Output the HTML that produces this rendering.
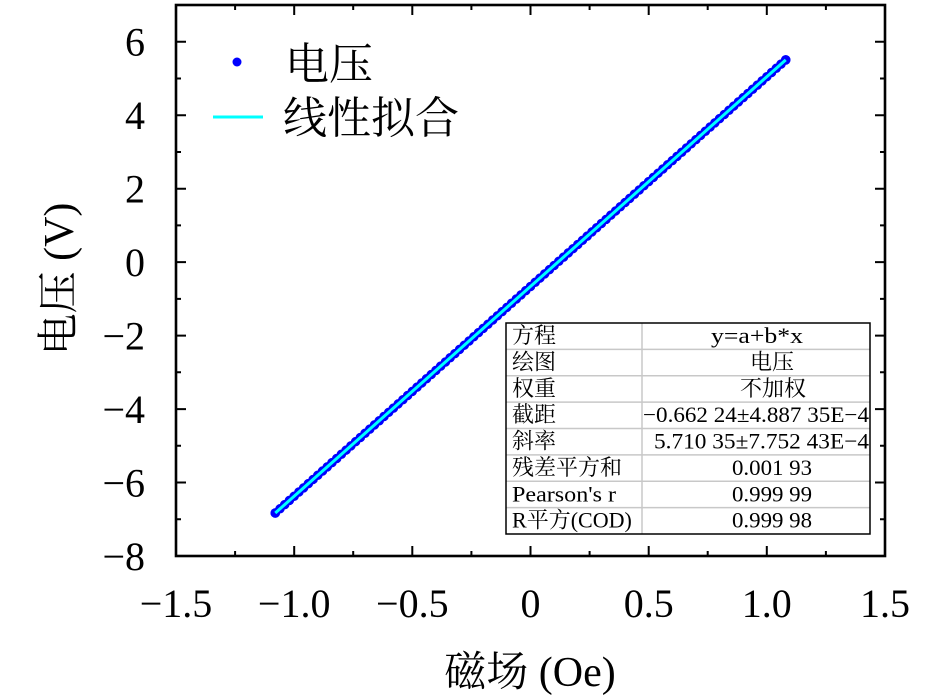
<!DOCTYPE html>
<html>
<head>
<meta charset="utf-8">
<style>
  html, body { margin: 0; padding: 0; background: #ffffff; }
  svg { display: block; }
  .tick { font-family: "Liberation Serif", serif; font-size: 40px; fill: #000; }
  .cjk { font-family: "Liberation Serif", "Noto Serif CJK SC", "Noto Serif CJK JP", serif; fill: #000; }
  .lat { font-family: "Liberation Serif", serif; }
  .tb { font-family: "Liberation Serif", "Noto Serif CJK SC", "Noto Serif CJK JP", serif; font-size: 22px; fill: #000; }
</style>
</head>
<body>
<svg width="945" height="698" viewBox="0 0 945 698" xmlns="http://www.w3.org/2000/svg">
  <rect x="0" y="0" width="945" height="698" fill="#fff"/>

  <!-- data: markers as round-capped dashes -->
  <line x1="275.26" y1="513.0" x2="785.74" y2="59.92" pathLength="108"
        stroke="#0000ff" stroke-width="9.5" stroke-linecap="round" stroke-dasharray="0 1" fill="none"/>
  <line x1="275.26" y1="513.0" x2="785.74" y2="59.92" stroke="#0000ff" stroke-width="7"/>
  <circle cx="275.26" cy="513.0" r="4.8" fill="#0000ff"/>
  <circle cx="785.74" cy="59.92" r="4.8" fill="#0000ff"/>
  <!-- fit line -->
  <line x1="275.26" y1="513.0" x2="785.74" y2="59.92" stroke="#00ffff" stroke-width="3"/>

  <!-- ticks -->
  <g stroke="#000" stroke-width="2" fill="none">
    <path d="M294.2 556v-10 M412.3 556v-10 M530.5 556v-10 M648.7 556v-10 M766.8 556v-10"/>
    <path d="M235.1 556v-5 M353.2 556v-5 M471.4 556v-5 M589.6 556v-5 M707.7 556v-5 M825.9 556v-5"/>
    <path d="M294.2 5v10 M412.3 5v10 M530.5 5v10 M648.7 5v10 M766.8 5v10"/>
    <path d="M235.1 5v5 M353.2 5v5 M471.4 5v5 M589.6 5v5 M707.7 5v5 M825.9 5v5"/>
    <path d="M176 482.5h10 M176 409.1h10 M176 335.6h10 M176 262.1h10 M176 188.7h10 M176 115.2h10 M176 41.7h10"/>
    <path d="M176 519.3h5 M176 445.8h5 M176 372.3h5 M176 298.9h5 M176 225.4h5 M176 152h5 M176 78.5h5"/>
    <path d="M885 482.5h-10 M885 409.1h-10 M885 335.6h-10 M885 262.1h-10 M885 188.7h-10 M885 115.2h-10 M885 41.7h-10"/>
    <path d="M885 519.3h-5 M885 445.8h-5 M885 372.3h-5 M885 298.9h-5 M885 225.4h-5 M885 152h-5 M885 78.5h-5"/>
  </g>

  <!-- spines -->
  <rect x="176" y="5" width="709" height="551" fill="none" stroke="#000" stroke-width="2.6"/>

  <!-- x tick labels -->
  <g class="tick" text-anchor="middle">
    <text x="176" y="617">−1.5</text>
    <text x="294.2" y="617">−1.0</text>
    <text x="412.3" y="617">−0.5</text>
    <text x="530.5" y="617">0</text>
    <text x="648.7" y="617">0.5</text>
    <text x="766.8" y="617">1.0</text>
    <text x="885" y="617">1.5</text>
  </g>

  <!-- y tick labels -->
  <g class="tick" text-anchor="end">
    <text x="145" y="570">−8</text>
    <text x="145" y="496.5">−6</text>
    <text x="145" y="423.1">−4</text>
    <text x="145" y="349.6">−2</text>
    <text x="145" y="276.1">0</text>
    <text x="145" y="202.7">2</text>
    <text x="145" y="129.2">4</text>
    <text x="145" y="55.7">6</text>
  </g>

  <!-- axis titles -->
  <text class="cjk" x="530" y="686" font-size="42" text-anchor="middle">磁场<tspan class="lat"> (Oe)</tspan></text>
  <text class="cjk" font-size="42" text-anchor="middle" transform="translate(73,279) rotate(-90)">电压<tspan class="lat"> (V)</tspan></text>

  <!-- legend -->
  <circle cx="237" cy="62" r="4.5" fill="#0000ff"/>
  <text class="cjk" x="285" y="79" font-size="44">电压</text>
  <line x1="213" y1="117" x2="263" y2="117" stroke="#00ffff" stroke-width="3"/>
  <text class="cjk" x="283" y="133" font-size="44">线性拟合</text>

  <!-- fit results table -->
  <rect x="506" y="323" width="364" height="211" fill="#fff"/>
  <g stroke="#c8c8c8" stroke-width="1.5">
    <line x1="506" y1="349.4" x2="870" y2="349.4"/>
    <line x1="506" y1="375.8" x2="870" y2="375.8"/>
    <line x1="506" y1="402.1" x2="870" y2="402.1"/>
    <line x1="506" y1="428.5" x2="870" y2="428.5"/>
    <line x1="506" y1="454.9" x2="870" y2="454.9"/>
    <line x1="506" y1="481.3" x2="870" y2="481.3"/>
    <line x1="506" y1="507.6" x2="870" y2="507.6"/>
    <line x1="642" y1="323" x2="642" y2="534"/>
  </g>
  <rect x="506" y="323" width="364" height="211" fill="none" stroke="#000" stroke-width="1.5"/>

  <g class="tb">
    <text x="512" y="343">方程</text>
    <text x="512" y="369.4">绘图</text>
    <text x="512" y="395.8">权重</text>
    <text x="512" y="422.1">截距</text>
    <text x="512" y="448.5">斜率</text>
    <text x="512" y="474.9">残差平方和</text>
    <text x="512" y="501.3" textLength="104" lengthAdjust="spacingAndGlyphs">Pearson's r</text>
    <text x="512" y="527.6">R<tspan>平方</tspan><tspan class="lat">(COD)</tspan></text>
  </g>
  <g class="tb">
    <text x="711" y="343" textLength="92" lengthAdjust="spacingAndGlyphs">y=a+b*x</text>
    <text x="750" y="369.4">电压</text>
    <text x="740" y="395.8">不加权</text>
    <text x="643" y="422.1" textLength="226" lengthAdjust="spacingAndGlyphs">−0.662 24±4.887 35E−4</text>
    <text x="654" y="448.5" textLength="215" lengthAdjust="spacingAndGlyphs">5.710 35±7.752 43E−4</text>
    <text x="732" y="474.9" textLength="80" lengthAdjust="spacingAndGlyphs">0.001 93</text>
    <text x="732" y="501.3" textLength="80" lengthAdjust="spacingAndGlyphs">0.999 99</text>
    <text x="732" y="527.6" textLength="80" lengthAdjust="spacingAndGlyphs">0.999 98</text>
  </g>
</svg>
</body>
</html>
